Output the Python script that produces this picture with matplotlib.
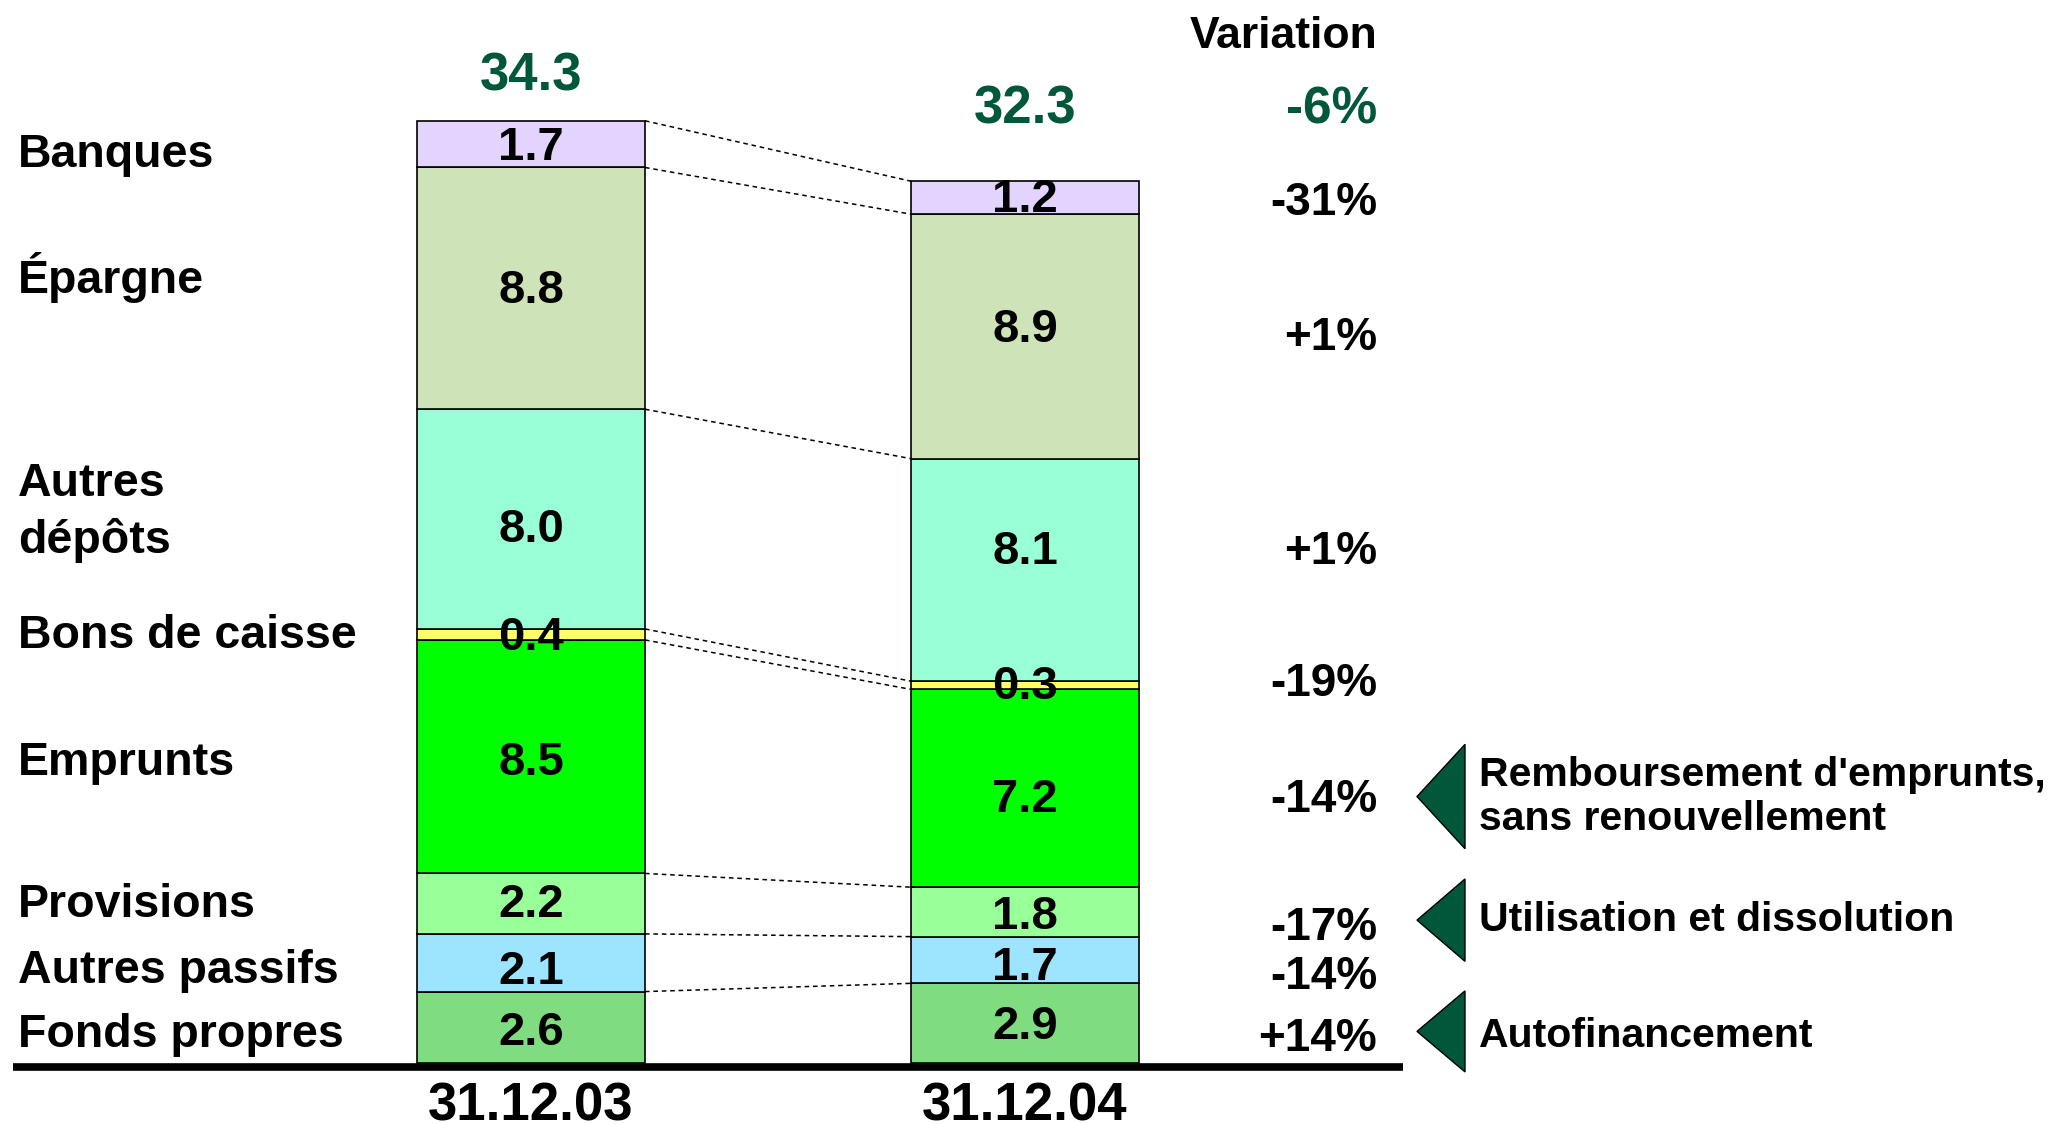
import matplotlib
matplotlib.use("Agg")
import numpy as np
import matplotlib.pyplot as plt
from matplotlib.patches import Polygon

# balance sheet liabilities, bottom to top
categories = ["Fonds propres", "Autres passifs", "Provisions", "Emprunts",
              "Bons de caisse", "Autres\ndépôts", "Épargne", "Banques"]
dates = ["31.12.03", "31.12.04"]
values_03 = [2.6, 2.1, 2.2, 8.5, 0.4, 8.0, 8.8, 1.7]
values_04 = [2.9, 1.7, 1.8, 7.2, 0.3, 8.1, 8.9, 1.2]
totals = [34.3, 32.3]
variations = ["+14%", "-14%", "-17%", "-14%", "-19%", "+1%", "+1%", "-31%"]
total_variation = "-6%"
comments = ["Autofinancement", "Utilisation et dissolution",
            "Remboursement d'emprunts,\nsans renouvellement"]
comment_rows = [0, 2, 3]

colors = ["#80DC80", "#9CE4FF", "#99FF99", "#00FF00",
          "#FFFF66", "#99FFD6", "#CFE3B8", "#E2D4FF"]
dark_green = "#00573A"
font = "Liberation Sans"

# small vertical nudges for labels (value units)
name_shift = [-0.29, -0.29, -0.05, -0.24, -0.05, 0.24, 0.38, -0.38]
var_shift = [-0.57, -0.62, -0.57, -0.43, 0.05, 0.67, -0.05, -0.19]
inbar_shift = [[-0.19, -0.33, -0.05, -0.24, -0.14, -0.38, -0.1, -0.14],
               [-0.14, -0.29, -0.19, -0.43, -0.05, 0.67, 0.24, -0.1]]

W, H = 2051, 1124
px = 27.47          # pixels per unit of value
base = 61           # pixels below the zero line

fig = plt.figure(figsize=(W / 100, H / 100), dpi=100)
ax = fig.add_axes([0, 0, 1, 1])
ax.set_xlim(0, W)
ax.set_ylim(-base / px, (H - base) / px)
ax.axis("off")

centers = [531, 1025]
bar_w = 228
series = [values_03, values_04]
stacks = []

for xc, vals, shifts in zip(centers, series, inbar_shift):
    bottoms = np.concatenate([[0], np.cumsum(vals)[:-1]])
    ax.bar(xc, vals, bottom=bottoms, width=bar_w, color=colors,
           edgecolor="black", linewidth=1.2, zorder=2)
    for v, b, s in zip(vals, bottoms, shifts):
        ax.text(xc, b + v / 2 + s, f"{v:.1f}", ha="center", va="center",
                fontsize=34, fontweight="bold", family=font, zorder=3)
    stacks.append(np.cumsum(vals))

# dashed links between matching boundaries
x_left = centers[0] + bar_w / 2
x_right = centers[1] - bar_w / 2
for y0, y1 in zip(stacks[0], stacks[1]):
    ax.plot([x_left, x_right], [y0, y1], color="black", lw=1.1,
            ls=(0, (3, 2.5)), zorder=1)

# totals above the bars
total_gap = [1.6, 2.6]
for xc, st, t, g in zip(centers, stacks, totals, total_gap):
    ax.text(xc, st[-1] + g, f"{t:.1f}", ha="center", va="center",
            fontsize=38, fontweight="bold", family=font, color=dark_green)

# category names on the left
mids_03 = stacks[0] - np.array(values_03) / 2
for name, y, s in zip(categories, mids_03, name_shift):
    ax.text(18, y + s, name, ha="left", va="center", fontsize=33.5,
            fontweight="bold", family=font, linespacing=1.35)

# variation column
mids_04 = stacks[1] - np.array(values_04) / 2
var_x = 1377
ax.text(var_x, (H - base - 37) / px, "Variation", ha="right", va="center",
        fontsize=32, fontweight="bold", family=font)
ax.text(var_x, stacks[1][-1] + total_gap[1], total_variation, ha="right",
        va="center", fontsize=37, fontweight="bold", family=font, color=dark_green)
for v, y, s in zip(variations, mids_04, var_shift):
    ax.text(var_x, y + s, v, ha="right", va="center", fontsize=33,
            fontweight="bold", family=font)

# comments with arrow heads
tri_h = [2.95, 3.0, 3.8]
text_drop = [0.15, 0.0, 0.0]
for text, row, h, d in zip(comments, comment_rows, tri_h, text_drop):
    y = mids_04[row] - 0.3
    tri = Polygon([[1417, y], [1465, y + h / 2], [1465, y - h / 2]],
                  closed=True, facecolor=dark_green, edgecolor="black", lw=1)
    ax.add_patch(tri)
    ax.text(1479, y - d, text, ha="left", va="center", fontsize=29.5,
            fontweight="bold", family=font, linespacing=1.2)

# base line and dates
ax.plot([13, 1403], [-0.14, -0.14], color="black", lw=5.5,
        solid_capstyle="butt", zorder=4)
for xc, d in zip(centers, dates):
    ax.text(xc, -1.58, d, ha="center", va="center", fontsize=38,
            fontweight="bold", family=font)

fig.savefig("out.png", dpi=100)
